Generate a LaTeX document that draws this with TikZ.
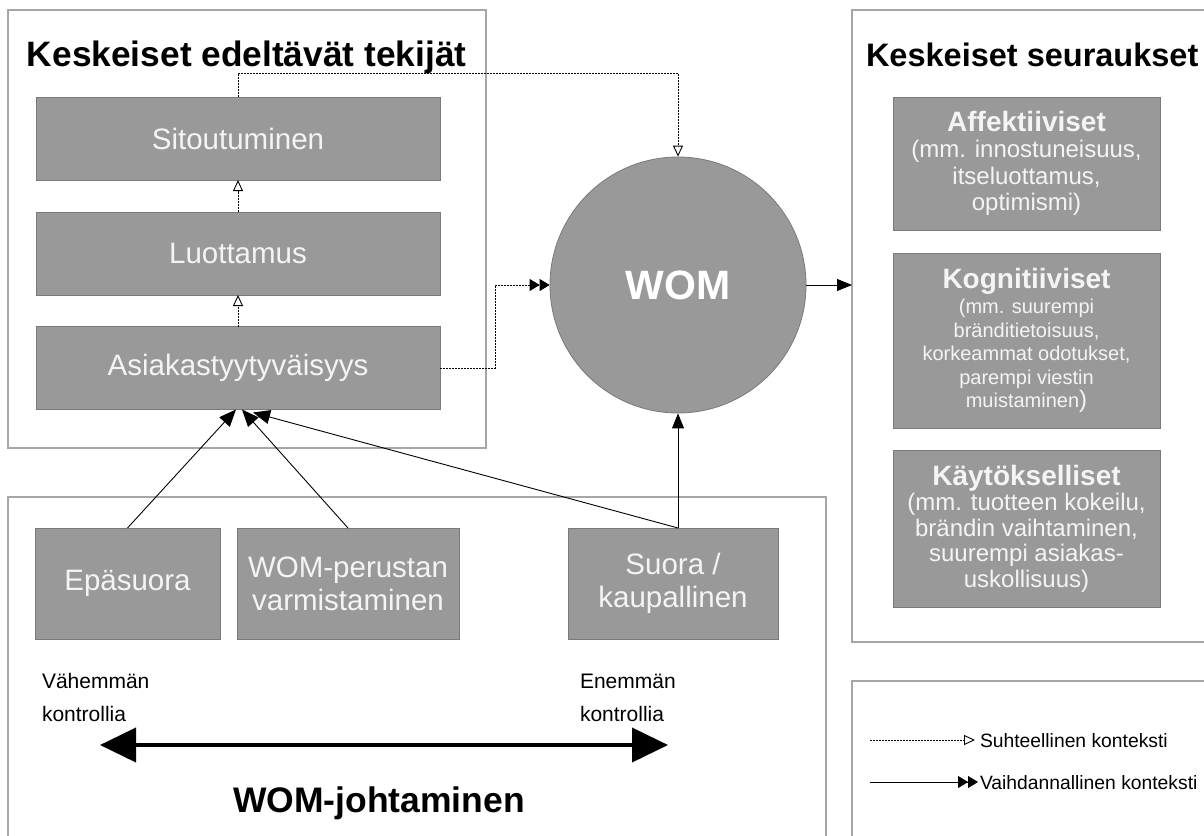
\documentclass[tikz,border=0pt]{standalone}
\usepackage{fontspec}
\setmainfont{Liberation Sans}
\usetikzlibrary{arrows.meta,calc}
\definecolor{boxgray}{HTML}{999999}
\definecolor{boxedge}{HTML}{7A7A7A}
\definecolor{framecol}{HTML}{A6A6A6}
\definecolor{boxtext}{HTML}{F4F4F4}
\newcommand{\fsz}[2]{\fontsize{#1}{#2}\selectfont}
\begin{document}
\begin{tikzpicture}[x=1pt,y=-1pt,
  frm/.style={draw=framecol,line width=1.5pt,fill=none,inner sep=0pt,outer sep=0pt},
  gbox/.style={draw=boxedge,line width=0.8pt,fill=boxgray,text=boxtext,inner sep=0pt,outer sep=0pt,align=center},
  lbox/.style={gbox,minimum width=404pt,minimum height=83pt,font=\fsz{29.5}{33}},
  mbox/.style={gbox,font=\fsz{29.5}{33}},
  rbox/.style={gbox,minimum width=267pt},
  rel/.style={dash pattern=on 1.6pt off 1.4pt,line width=0.9pt,-{Triangle[open,length=11pt,width=10pt]}},
  exch/.style={dash pattern=on 1.6pt off 1.4pt,line width=0.9pt,-{Triangle[length=10pt,width=12pt]Triangle[length=10pt,width=12pt]}},
  exchsolid/.style={line width=0.9pt,-{Triangle[length=10pt,width=12pt]Triangle[length=10pt,width=12pt]}},
  sarr/.style={line width=0.9pt,-{Triangle[length=15pt,width=12pt]}},
  bigarr/.style={line width=0.9pt,-{Triangle[length=17pt,width=14pt]}},
  txt/.style={inner sep=0pt,outer sep=0pt},
]
\useasboundingbox (0,0) rectangle (1204,835);
\clip (0,0) rectangle (1204,835);
\fill[white] (0,0) rectangle (1204,835);

% frames
\node[frm,minimum width=478pt,minimum height=438pt] (ante) at (247,229) {};
\node[frm,minimum width=363pt,minimum height=632pt] (seur) at (1033.5,326) {};
\node[frm,minimum width=818pt,minimum height=353pt] (mgmt) at (417,673.5) {};
\node[frm,minimum width=363pt,minimum height=169pt] (leg) at (1033.5,765.5) {};

% titles
\node[txt,anchor=base west,font=\fsz{35.3}{40}\bfseries] (t1) at (27,66) {Keskeiset edeltävät tekijät};
\node[txt,anchor=base west,font=\fsz{32.5}{40}\bfseries] (t2) at (866,66) {Keskeiset seuraukset};

% left boxes
\node[lbox] (sit) at (238,138.5) {Sitoutuminen};
\node[lbox] (luo) at (238,253.5) {Luottamus};
\node[lbox] (asi) at (238,368) {Asiakastyytyväisyys};

% WOM circle
\node[circle,draw=boxedge,line width=0.8pt,fill=boxgray,text=white,minimum size=256pt,inner sep=0pt,font=\fsz{41}{45}\bfseries] (wom) at (678,285) {WOM};

% management boxes
\node[mbox,minimum width=185pt,minimum height=111pt] (epa) at (127.5,583.5) {Epäsuora};
\node[mbox,minimum width=222pt,minimum height=111pt] (wpv) at (348,583.5) {WOM-perustan\\varmistaminen};
\node[mbox,minimum width=210pt,minimum height=111pt] (suo) at (673,583.5) {Suora /\\kaupallinen};

% right boxes
\node[rbox,minimum height=133pt,font=\fsz{24}{26.5}] (aff) at (1026.5,163.5)
  {{\fsz{28}{30}\bfseries Affektiiviset}\\(mm. innostuneisuus,\\itseluottamus,\\optimismi)};
\node[rbox,minimum height=175pt,font=\fsz{20}{23.5}] (kog) at (1026.5,340.5)
  {{\fsz{28}{30}\bfseries Kognitiiviset}\\[2pt](mm. suurempi\\bränditietoisuus,\\korkeammat odotukset,\\parempi viestin\\muistaminen{\fsz{24}{24})}};
\node[rbox,minimum height=157pt,font=\fsz{24}{25.5}] (kay) at (1026.5,528.5)
  {{\fsz{28}{30}\bfseries Käytökselliset}\\(mm. tuotteen kokeilu,\\brändin vaihtaminen,\\suurempi asiakas-\\uskollisuus)};

% connectors
\draw[rel] (asi.north) -- (luo.south);
\draw[rel] (luo.north) -- (sit.south);
\draw[rel] (sit.north) -- ++(0,-24) -| (wom.north);
\draw[exch] (asi.east) -- ++(55,0) |- (wom.west);
\draw[sarr] (wom.east) -- (wom.east -| seur.west);
\draw[sarr] (wom.south |- suo.north) -- (wom.south);
\draw[bigarr] (epa.north) -- ($(asi.south)+(-2,0)$);
\draw[bigarr] (wpv.north) -- ($(asi.south)+(4,0)$);
\draw[bigarr] (wom.south |- suo.north) -- ($(asi.south)+(15,3)$);

% control scale
\node[txt,anchor=base west,font=\fsz{21}{24}] (v1) at (42,688) {Vähemmän};
\node[txt,anchor=base west,font=\fsz{21}{24}] (v2) at (42,721) {kontrollia};
\node[txt,anchor=base west,font=\fsz{21}{24}] (e1) at (580,688) {Enemmän};
\node[txt,anchor=base west,font=\fsz{21}{24}] (e2) at (580,721) {kontrollia};
\coordinate (la) at (100,745);
\coordinate (ra) at (668,745);
\draw[line width=4pt,{Triangle[length=36pt,width=34pt]}-{Triangle[length=36pt,width=34pt]}] (la) -- (ra);
\node[txt,anchor=base,font=\fsz{35.5}{40}\bfseries] (wj) at (379,812) {WOM-johtaminen};

% legend
\coordinate (l1a) at (870,740);
\coordinate (l1b) at (975,740);
\coordinate (l2a) at (870,782);
\coordinate (l2b) at (978,782);
\draw[rel] (l1a) -- (l1b);
\draw[exchsolid] (l2a) -- (l2b);
\node[txt,anchor=base west,font=\fsz{19.3}{22}] (lt1) at (980,747) {Suhteellinen konteksti};
\node[txt,anchor=base west,font=\fsz{19.3}{22}] (lt2) at (980,789) {Vaihdannallinen konteksti};
\end{tikzpicture}
\end{document}
